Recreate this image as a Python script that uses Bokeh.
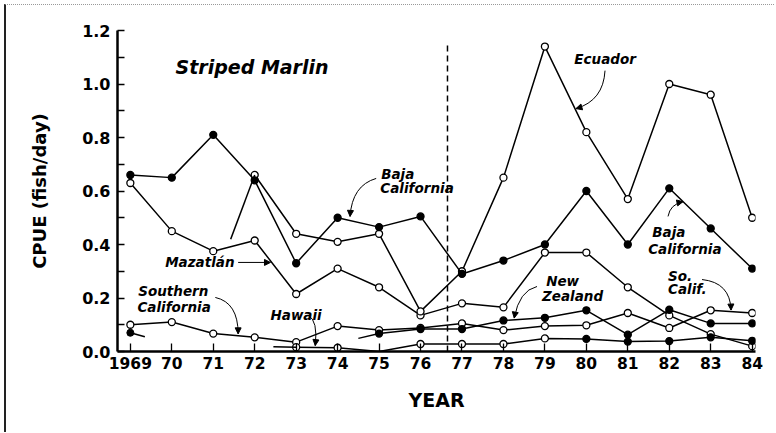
import math
from bokeh.plotting import figure
from bokeh.models import (Range1d, FixedTicker, ColumnDataSource, Arrow, NormalHead,
                          PrintfTickFormatter)
from bokeh.core.properties import value
from bokeh.embed import file_html
from bokeh.resources import INLINE

# ---------------- data ----------------
nan = float("nan")
years = list(range(1969, 1985))
year_labels = ["1969", "70", "71", "72", "73", "74", "75", "76",
               "77", "78", "79", "80", "81", "82", "83", "84"]
y_ticks = [0.0, 0.2, 0.4, 0.6, 0.8, 1.0, 1.2]
y_minor_ticks = [0.1, 0.3, 0.5, 0.7, 0.9, 1.1]

baja_california = [0.66, 0.65, 0.81, 0.64, 0.33, 0.50, 0.465, 0.505,
                   0.29, 0.34, 0.40, 0.60, 0.40, 0.61, 0.46, 0.31]
ecuador = [nan, nan, nan, 0.66, 0.44, 0.41, 0.44, 0.15,
           0.30, 0.65, 1.14, 0.82, 0.57, 1.00, 0.96, 0.50]
mazatlan = [0.63, 0.45, 0.375, 0.415, 0.215, 0.31, 0.24, 0.135,
            0.18, 0.165, 0.37, 0.37, 0.24, 0.135, 0.065, 0.02]
southern_california = [0.10, 0.11, 0.067, 0.053, 0.035, 0.095, 0.08, 0.088,
                       0.105, 0.08, 0.095, 0.098, 0.144, 0.088, 0.154, 0.144]
hawaii = [nan, nan, nan, nan, 0.016, 0.014, 0.0, 0.028,
          0.028, 0.028, 0.049, 0.047, 0.037, 0.039, 0.053, 0.04]
hawaii_filled = [False] * 11 + [True] * 5
new_zealand = [nan, nan, nan, nan, nan, nan, 0.067, 0.084,
               0.084, 0.116, 0.126, 0.154, 0.063, 0.156, 0.105, 0.105]
socal_extra_year = [1969]
socal_extra_value = [0.07]

# short partial segments drawn in the original
stub_x0 = [1969.0, 1971.42, 1972.45, 1974.5]
stub_y0 = [0.07, 0.42, 0.018, 0.049]
stub_x1 = [1969.35, 1972.0, 1973.0, 1975.0]
stub_y1 = [0.055, 0.66, 0.016, 0.067]

divider_year = 1976.65

# ---------------- figure ----------------
FONT = "DejaVu Sans"
p = figure(width=770, height=428, output_backend="svg", toolbar_location=None,
           x_range=Range1d(1968.69, 1984.08), y_range=Range1d(0, 1.2),
           min_border_left=111, min_border_right=21, min_border_top=25,
           min_border_bottom=82)
p.styles = {"margin-left": "4px", "margin-top": "4px",
            "border-left": "2px solid #222", "border-top": "1px dotted #999"}
p.xgrid.grid_line_color = None
p.ygrid.grid_line_color = None
p.outline_line_color = None
p.background_fill_color = "white"
p.border_fill_color = "white"

xa = p.xaxis[0]
xa.ticker = FixedTicker(ticks=years)
xa.major_label_overrides = {y: l for y, l in zip(years, year_labels)}
xa.major_tick_in = 8
xa.major_tick_out = 0
xa.minor_tick_line_color = None
xa.axis_line_width = 2.5
xa.major_tick_line_width = 1.3
xa.major_label_text_font = FONT
xa.major_label_text_font_style = "bold"
xa.major_label_text_font_size = "15.5px"
xa.major_label_text_color = "black"
xa.major_label_standoff = 5
xa.axis_label = "YEAR"
xa.axis_label_text_font = FONT
xa.axis_label_text_font_style = "bold"
xa.axis_label_text_font_size = "19px"
xa.axis_label_text_color = "black"
xa.axis_label_standoff = 17

ya = p.yaxis[0]
ya.ticker = FixedTicker(ticks=y_ticks, minor_ticks=y_minor_ticks)
ya.formatter = PrintfTickFormatter(format="%.1f")
ya.major_tick_in = 7
ya.major_tick_out = 0
ya.minor_tick_in = 7
ya.minor_tick_out = 0
ya.axis_line_width = 2.5
ya.major_tick_line_width = 1.3
ya.minor_tick_line_width = 1.3
ya.major_label_text_font = FONT
ya.major_label_text_font_style = "bold"
ya.major_label_text_font_size = "16px"
ya.major_label_text_color = "black"
ya.major_label_standoff = 7
ya.axis_label = "CPUE (fish/day)"
ya.axis_label_text_font = FONT
ya.axis_label_text_font_style = "bold"
ya.axis_label_text_font_size = "18px"
ya.axis_label_text_color = "black"
ya.axis_label_standoff = 29

# divider
p.segment(x0=[divider_year], y0=[0.0], x1=[divider_year], y1=[1.155],
          line_color="black", line_width=1.5, line_dash="6 4")

LW = 1.5
MS = 7

def draw(vals, filled):
    src = ColumnDataSource(dict(x=years, y=vals))
    p.line("x", "y", source=src, line_color="black", line_width=LW)
    mx, my, mf = [], [], []
    for x, v, f in zip(years, vals, filled):
        if isinstance(v, float) and math.isnan(v):
            continue
        if v <= 0.0:
            continue
        mx.append(x); my.append(v); mf.append("black" if f else "white")
    msrc = ColumnDataSource(dict(x=mx, y=my, f=mf))
    p.scatter("x", "y", source=msrc, size=MS, marker="circle", fill_color="f",
              line_color="black", line_width=1.3)

n = len(years)
draw(mazatlan, [False] * n)
draw(southern_california, [False] * n)
draw(hawaii, hawaii_filled)
draw(new_zealand, [True] * n)
draw(ecuador, [False] * n)
draw(baja_california, [True] * n)

p.segment(x0=stub_x0, y0=stub_y0, x1=stub_x1, y1=stub_y1,
          line_color="black", line_width=LW)
p.scatter(socal_extra_year, socal_extra_value, size=MS, marker="circle",
          fill_color="black", line_color="black")

# ---------------- annotations ----------------
label_text = ["Ecuador", "Baja", "California", "Baja", "California", "Mazatlán",
              "Southern", "California", "Hawaii", "New", "Zealand", "So.", "Calif."]
label_x = [1979.71, 1975.05, 1975.03, 1981.59, 1981.49, 1969.84,
           1969.19, 1969.17, 1972.38, 1979.03, 1978.93, 1981.97, 1981.97]
label_y = [1.095, 0.665, 0.613, 0.445, 0.385, 0.333,
           0.228, 0.168, 0.138, 0.265, 0.206, 0.284, 0.232]
p.text(x=label_x, y=label_y, text=label_text, text_font=value(FONT),
       text_font_style="bold italic", text_font_size=value("13.5px"),
       text_baseline="middle", text_align="left", text_color="black")
p.text(x=[1970.09], y=[1.065], text=["Striped Marlin"], text_font=value(FONT),
       text_font_style="bold italic", text_font_size=value("19px"),
       text_baseline="middle", text_align="left", text_color="black")

# curved pointer arrows: start, control, end
arr_x0 = [1980.45, 1974.93, 1981.97, 1971.05, 1973.29, 1978.81, 1982.79]
arr_y0 = [1.050, 0.647, 0.505, 0.202, 0.135, 0.243, 0.269]
arr_cx = [1980.41, 1974.35, 1982.02, 1971.60, 1973.53, 1978.38, 1983.47]
arr_cy = [0.938, 0.621, 0.550, 0.183, 0.116, 0.228, 0.258]
arr_x1 = [1979.75, 1974.30, 1982.33, 1971.60, 1973.46, 1978.26, 1983.49]
arr_y1 = [0.908, 0.505, 0.560, 0.066, 0.022, 0.125, 0.155]
p.quadratic(x0=arr_x0, y0=arr_y0, x1=arr_x1, y1=arr_y1, cx=arr_cx, cy=arr_cy,
            line_color="black", line_width=1.0)
for cx, cy, ex, ey in zip(arr_cx, arr_cy, arr_x1, arr_y1):
    p.add_layout(Arrow(end=NormalHead(size=6, fill_color="black", line_color="black"),
                       x_start=cx, y_start=cy, x_end=ex, y_end=ey, line_alpha=0.0))
# straight pointer for Mazatlán
p.add_layout(Arrow(end=NormalHead(size=6, fill_color="black", line_color="black"),
                   x_start=1971.60, y_start=0.333, x_end=1972.38, y_end=0.333,
                   line_color="black", line_width=1.0))

open("out.html", "w").write(file_html(p, INLINE))
